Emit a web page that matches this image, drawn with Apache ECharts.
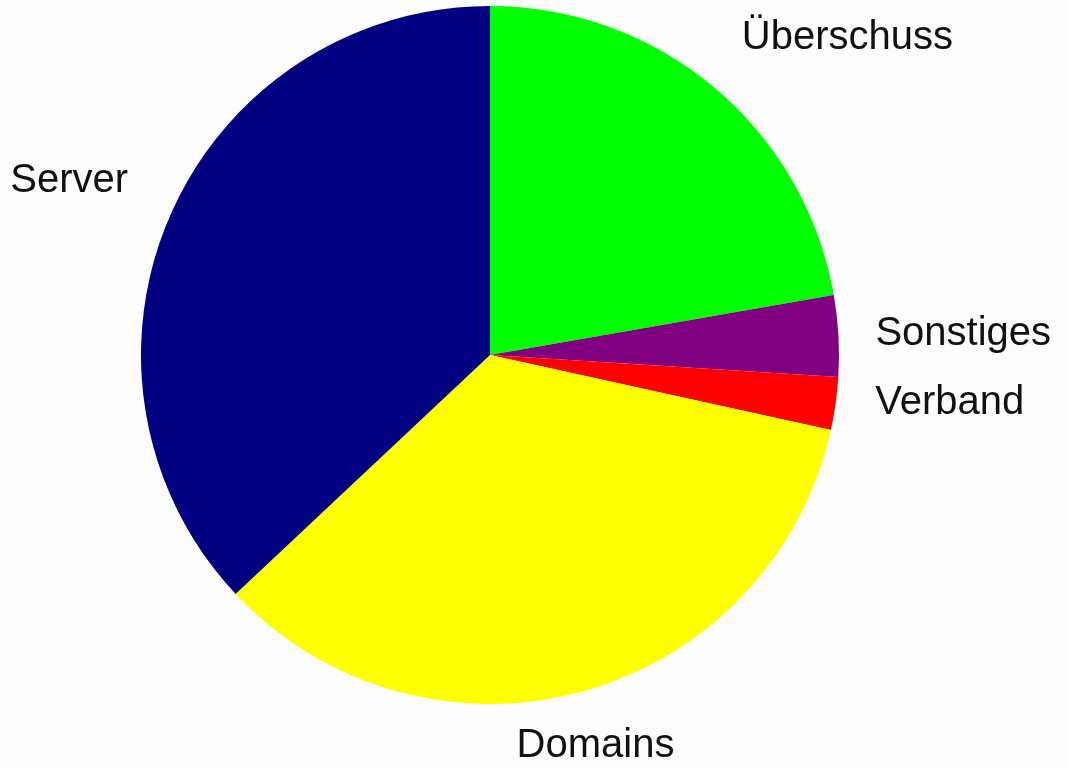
<!DOCTYPE html>
<html>
<head>
<meta charset="utf-8">
<script src="https://cdn.jsdelivr.net/npm/echarts@6/dist/echarts.min.js"></script>
<style>
  html, body { margin: 0; padding: 0; background: #fdfdfd; }
  #chart { width: 1068px; height: 769px; }
</style>
</head>
<body>
<div id="chart"></div>
<script>
  // Anteile (in %), im Uhrzeigersinn ab 12 Uhr
  var categories = ['Überschuss', 'Sonstiges', 'Verband', 'Domains', 'Server'];
  var values = [22.25, 3.75, 2.45, 34.55, 37.0];
  var colors = ['#00ff00', '#800080', '#ff0000', '#ffff00', '#000080'];

  // Feinkorrektur der Beschriftung (dx, dy)
  var labelNudge = [[3, -27], [2, 0], [5, -5], [-79, 26], [-9, -24]];

  var myChart = echarts.init(document.getElementById('chart'));

  var pieData = [];
  for (var i = 0; i < categories.length; i++) {
    pieData.push({
      name: categories[i],
      value: values[i],
      itemStyle: { color: colors[i] }
    });
  }

  myChart.setOption({
    backgroundColor: '#fdfdfd',
    animation: false,
    series: [{
      type: 'pie',
      center: [490, 355],
      radius: 349,
      startAngle: 90,
      clockwise: true,
      avoidLabelOverlap: false,
      itemStyle: { borderWidth: 0 },
      label: {
        show: true,
        position: 'outside',
        alignTo: 'none',
        formatter: '{b}',
        color: '#111',
        fontFamily: 'Liberation Sans, Arial, sans-serif',
        fontSize: 40
      },
      labelLine: {
        show: false,
        length: 30,
        length2: 0
      },
      labelLayout: function (params) {
        var n = labelNudge[params.dataIndex];
        return { dx: n[0], dy: n[1] };
      },
      emphasis: { disabled: true },
      data: pieData
    }]
  });

  window.onresize = function () {
    myChart.resize();
  };
</script>
</body>
</html>
